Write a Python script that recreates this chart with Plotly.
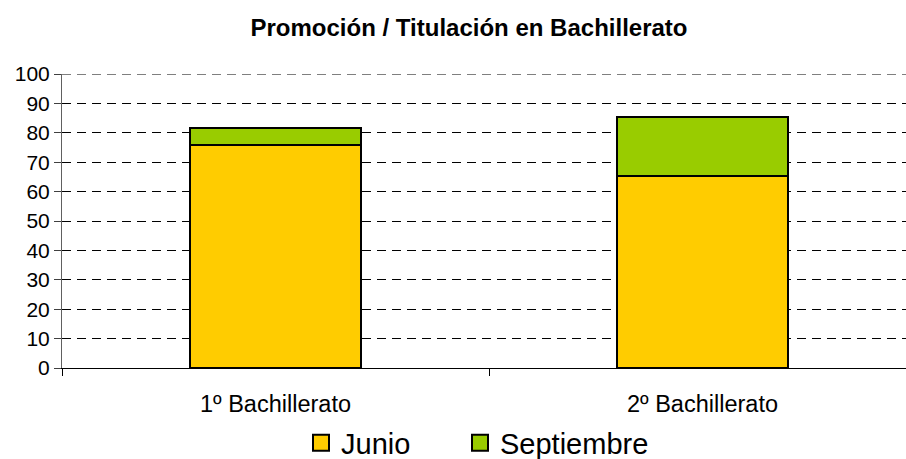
import plotly.graph_objects as go

# Bachillerato promotion rates (%) by course and exam session
cursos = ["1º Bachillerato", "2º Bachillerato"]
junio = [75.8, 65.3]
septiembre = [5.7, 20.2]

color_junio = "#FFCC00"
color_septiembre = "#99CC00"
font_family = "Liberation Sans, Arial, sans-serif"

fig = go.Figure()

fig.add_trace(go.Bar(
    x=cursos, y=junio, name="Junio",
    marker=dict(color=color_junio, line=dict(color="black", width=2)),
    showlegend=False,
))
fig.add_trace(go.Bar(
    x=cursos, y=septiembre, name="Septiembre",
    marker=dict(color=color_septiembre, line=dict(color="black", width=2)),
    showlegend=False,
))

# Legend entries with larger square swatches, one legend box each
for nombre, color, ley in [("Junio", color_junio, "legend"),
                           ("Septiembre", color_septiembre, "legend2")]:
    fig.add_trace(go.Scatter(
        x=[None], y=[None], mode="markers", name=nombre, legend=ley,
        marker=dict(symbol="square", size=16, color=color,
                    line=dict(color="black", width=2)),
    ))

grid_dash = "9px,6px"
legend_common = dict(
    orientation="h",
    xref="container", yref="container",
    y=1 - 443 / 459, yanchor="middle", xanchor="left",
    font=dict(size=29, family=font_family, color="black"),
    itemsizing="trace",
    bgcolor="rgba(0,0,0,0)",
)

fig.update_layout(
    width=906, height=459,
    margin=dict(l=62, r=0, t=74, b=91, autoexpand=False),
    barmode="stack",
    bargap=0.6,
    plot_bgcolor="white",
    paper_bgcolor="white",
    font=dict(family=font_family, color="black"),
    title=dict(
        text="<b>Promoción / Titulación en Bachillerato</b>",
        font=dict(size=24, family=font_family, color="black"),
        x=469 / 906, xanchor="center", xref="container",
        y=1 - 28 / 459, yanchor="middle", yref="container",
    ),
    legend=dict(x=301 / 906, **legend_common),
    legend2=dict(x=460 / 906, **legend_common),
    xaxis=dict(
        type="category",
        range=[-0.5, 1.4766],
        tickson="boundaries",
        ticks="outside", ticklen=7, tickcolor="black",
        showline=True, linecolor="black", linewidth=1,
        showgrid=False,
        tickfont=dict(size=23.5, family=font_family, color="black"),
        ticklabelstandoff=15,
    ),
    yaxis=dict(
        range=[0, 100], dtick=10,
        ticks="outside", ticklen=7, tickcolor="#404040",
        showline=True, linecolor="#606060", linewidth=1,
        showgrid=True, gridcolor="black", gridwidth=1, griddash=grid_dash,
        zeroline=False,
        tickfont=dict(size=21, family=font_family, color="black"),
    ),
    # top gridline at the end of the value range
    shapes=[dict(
        type="line", xref="paper", yref="y", x0=0, x1=1, y0=100, y1=100,
        line=dict(color="black", width=1, dash=grid_dash), layer="below",
    )],
)

fig.write_html("out.html")
